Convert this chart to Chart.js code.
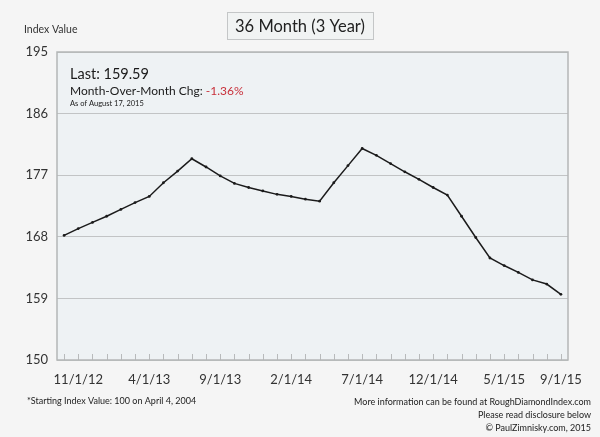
<!DOCTYPE html>
<html>
<head>
<meta charset="utf-8">
<script src="https://cdn.jsdelivr.net/npm/chart.js@4.4.1/dist/chart.umd.min.js"></script>
<style>
  html, body { margin: 0; padding: 0; background: #f5f5f5; }
  #wrap { width: 600px; height: 437px; }
</style>
</head>
<body>
<div id="wrap"><canvas id="indexChart" width="600" height="437"></canvas></div>
<script>
// monthly points, 10/1/12 .. 9/1/15
let monthLabels = [
  "10/1/12", "11/1/12", "12/1/12", "1/1/13", "2/1/13", "3/1/13",
  "4/1/13", "5/1/13", "6/1/13", "7/1/13", "8/1/13", "9/1/13",
  "10/1/13", "11/1/13", "12/1/13", "1/1/14", "2/1/14", "3/1/14",
  "4/1/14", "5/1/14", "6/1/14", "7/1/14", "8/1/14", "9/1/14",
  "10/1/14", "11/1/14", "12/1/14", "1/1/15", "2/1/15", "3/1/15",
  "4/1/15", "5/1/15", "6/1/15", "7/1/15", "8/1/15", "9/1/15",
];
let indexValues = [
  168.2, 169.2, 170.1, 171.0, 172.0, 173.0,
  173.9, 175.9, 177.6, 179.4, 178.2, 176.9,
  175.8, 175.2, 174.7, 174.2, 173.9, 173.5,
  173.2, 175.9, 178.4, 180.9, 179.9, 178.7,
  177.5, 176.4, 175.2, 174.1, 171.0, 167.9,
  164.9, 163.8, 162.8, 161.7, 161.1, 159.59,
];
let shownLabels = ["11/1/12", "4/1/13", "9/1/13", "2/1/14", "7/1/14", "12/1/14", "5/1/15", "9/1/15"];
let yTicks = [150, 159, 168, 177, 186, 195];

const fontFamily = 'Lato, "Open Sans", sans-serif';
const plotBg = "#eef2f4";
const frameColor = "#b4b6b7";

const decorPlugin = {
  id: "decor",
  beforeDraw(chart) {
    const { ctx, chartArea: a } = chart;
    ctx.save();
    ctx.fillStyle = "#f5f5f5";
    ctx.fillRect(0, 0, chart.width, chart.height);
    ctx.fillStyle = plotBg;
    ctx.fillRect(a.left, a.top, a.right - a.left, a.bottom - a.top);
    ctx.restore();
  },
  afterDraw(chart) {
    const { ctx, chartArea: a } = chart;
    const xs = chart.scales.x;
    ctx.save();

    // little month ticks inside the bottom edge
    ctx.strokeStyle = "#b8babb";
    ctx.lineWidth = 1;
    monthLabels.forEach((m, i) => {
      const px = Math.round(xs.getPixelForValue(i)) + 0.5;
      ctx.beginPath();
      ctx.moveTo(px, a.bottom);
      ctx.lineTo(px, a.bottom - 6);
      ctx.stroke();
    });

    // frame
    ctx.strokeStyle = frameColor;
    ctx.lineWidth = 1.5;
    ctx.strokeRect(a.left, a.top, a.right - a.left, a.bottom - a.top);

    // title box
    ctx.fillStyle = "#f1f3f3";
    ctx.fillRect(227, 12, 146, 27);
    ctx.strokeStyle = "#c4c6c7";
    ctx.lineWidth = 1;
    ctx.strokeRect(227.5, 12.5, 146, 27);
    ctx.fillStyle = "#222";
    ctx.textAlign = "center";
    ctx.textBaseline = "alphabetic";
    ctx.font = "16.5px " + fontFamily;
    ctx.fillText("36 Month (3 Year)", 300, 32);

    ctx.textAlign = "left";
    ctx.font = "10.5px " + fontFamily;
    ctx.fillStyle = "#333";
    ctx.fillText("Index Value", 24, 33);

    // annotation
    ctx.fillStyle = "#1a1a1a";
    ctx.font = "14.5px " + fontFamily;
    ctx.fillText("Last: 159.59", 70, 79);
    ctx.font = "12px " + fontFamily;
    const lead = "Month-Over-Month Chg: ";
    ctx.fillText(lead, 70, 95);
    ctx.fillStyle = "#c8303a";
    ctx.fillText("-1.36%", 70 + ctx.measureText(lead).width, 95);
    ctx.fillStyle = "#1a1a1a";
    ctx.font = "7.5px " + fontFamily;
    ctx.fillText("As of August 17, 2015", 70, 106);

    // footer
    ctx.fillStyle = "#222";
    ctx.font = "9px " + fontFamily;
    ctx.fillText("*Starting Index Value: 100 on April 4, 2004", 27, 404);
    ctx.textAlign = "right";
    ctx.fillText("More information can be found at RoughDiamondIndex.com", 591, 405);
    ctx.fillText("Please read disclosure below", 591, 418);
    ctx.fillText("\u00A9 PaulZimnisky.com, 2015", 591, 431);

    ctx.restore();
  },
};

new Chart(document.getElementById("indexChart"), {
  type: "line",
  data: {
    labels: monthLabels,
    datasets: [
      {
        data: indexValues,
        borderColor: "#1b1b1b",
        borderWidth: 1.5,
        tension: 0,
        pointRadius: 1.4,
        pointBackgroundColor: "#1b1b1b",
        pointBorderWidth: 0,
      },
    ],
  },
  options: {
    responsive: false,
    animation: false,
    devicePixelRatio: 1,
    layout: { padding: { top: 52, right: 32, left: 0, bottom: 0 } },
    scales: {
      x: {
        offset: true,
        afterFit: (scale) => { scale.height = 77; },
        grid: { display: false, drawTicks: false },
        border: { display: false },
        ticks: {
          autoSkip: false,
          maxRotation: 0,
          padding: 12,
          color: "#333",
          font: { family: fontFamily, size: 13 },
          callback: function (value) {
            const lab = this.getLabelForValue(value);
            return shownLabels.includes(lab) ? lab : "";
          },
        },
      },
      y: {
        min: 150,
        max: 195,
        afterFit: (scale) => { scale.width = 57; },
        afterBuildTicks: (scale) => { scale.ticks = yTicks.map((v) => ({ value: v })); },
        grid: { color: "#c2c4c5", lineWidth: 1, drawTicks: false },
        border: { display: false },
        ticks: {
          padding: 9,
          color: "#333",
          font: { family: fontFamily, size: 13 },
        },
      },
    },
    plugins: {
      legend: { display: false },
      tooltip: { enabled: false },
    },
  },
  plugins: [decorPlugin],
});
</script>
</body>
</html>
